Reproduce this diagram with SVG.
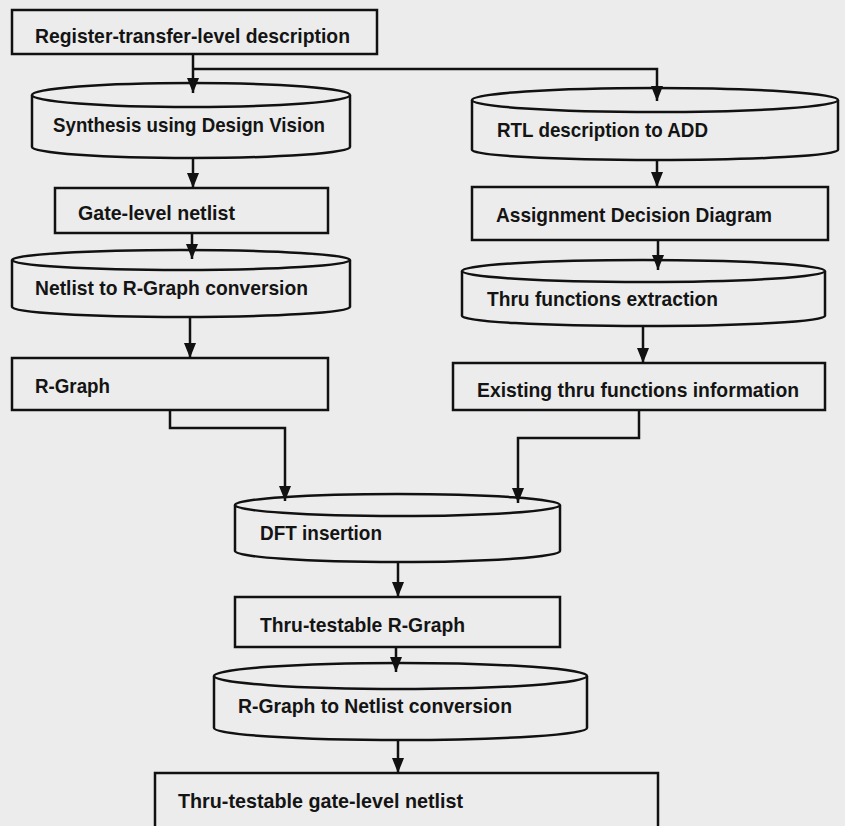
<svg xmlns="http://www.w3.org/2000/svg" width="845" height="826" viewBox="0 0 845 826">
<style>
.s{fill:#ececec;stroke:#111;stroke-width:2.5}
.c{fill:none;stroke:#111;stroke-width:2.5}
.t{font-family:"Liberation Sans",Arial,sans-serif;font-weight:bold;font-size:20.5px;fill:#141414}
</style>
<defs>
<marker id="ah" viewBox="0 0 12 15" refX="6" refY="15" markerWidth="12" markerHeight="15" markerUnits="userSpaceOnUse" orient="0">
<path d="M0,0 L12,0 L6,15 Z" fill="#111"/>
</marker>
</defs>
<rect width="845" height="826" fill="#ececec"/>
<g id="n1"><rect class="s" x="12" y="10" width="365" height="44"/><text class="t" x="35" y="43" textLength="315" lengthAdjust="spacingAndGlyphs">Register-transfer-level description</text></g>
<g id="n2"><path class="s" d="M32,95 V147 A159,11 0 0 0 350,147 V95"/><ellipse class="s" cx="191" cy="95" rx="159" ry="12"/><text class="t" x="53" y="132" textLength="272" lengthAdjust="spacingAndGlyphs">Synthesis using Design Vision</text></g>
<g id="n3"><rect class="s" x="55" y="188" width="273" height="45"/><text class="t" x="78" y="220" textLength="157" lengthAdjust="spacingAndGlyphs">Gate-level netlist</text></g>
<g id="n4"><path class="s" d="M12,260 V307 A169,10 0 0 0 350,307 V260"/><ellipse class="s" cx="181" cy="260" rx="169" ry="10"/><text class="t" x="35" y="295" textLength="273" lengthAdjust="spacingAndGlyphs">Netlist to R-Graph conversion</text></g>
<g id="n5"><rect class="s" x="12" y="358" width="316" height="52"/><text class="t" x="35" y="393" textLength="75" lengthAdjust="spacingAndGlyphs">R-Graph</text></g>
<g id="n6"><path class="s" d="M472,100 V150 A183,10 0 0 0 838,150 V100"/><ellipse class="s" cx="655" cy="100" rx="183" ry="12"/><text class="t" x="497" y="137" textLength="211" lengthAdjust="spacingAndGlyphs">RTL description to ADD</text></g>
<g id="n7"><rect class="s" x="472" y="187" width="356" height="53"/><text class="t" x="496" y="222" textLength="276" lengthAdjust="spacingAndGlyphs">Assignment Decision Diagram</text></g>
<g id="n8"><path class="s" d="M462,271 V316 A181.5,10 0 0 0 825,316 V271"/><ellipse class="s" cx="643.5" cy="271" rx="181.5" ry="11"/><text class="t" x="487" y="306" textLength="231" lengthAdjust="spacingAndGlyphs">Thru functions extraction</text></g>
<g id="n9"><rect class="s" x="453" y="363" width="372" height="47"/><text class="t" x="477" y="397" textLength="322" lengthAdjust="spacingAndGlyphs">Existing thru functions information</text></g>
<g id="n10"><path class="s" d="M235,505 V551 A162.5,11 0 0 0 560,551 V505"/><ellipse class="s" cx="397.5" cy="505" rx="162.5" ry="11"/><text class="t" x="260" y="540" textLength="122" lengthAdjust="spacingAndGlyphs">DFT insertion</text></g>
<g id="n11"><rect class="s" x="235" y="597" width="325" height="50"/><text class="t" x="260" y="632" textLength="205" lengthAdjust="spacingAndGlyphs">Thru-testable R-Graph</text></g>
<g id="n12"><path class="s" d="M214,676 V728 A186.5,12 0 0 0 587,728 V676"/><ellipse class="s" cx="400.5" cy="676" rx="186.5" ry="13"/><text class="t" x="238" y="713" textLength="274" lengthAdjust="spacingAndGlyphs">R-Graph to Netlist conversion</text></g>
<g id="n13"><rect class="s" x="155" y="773" width="503" height="70"/><text class="t" x="178" y="808" textLength="285" lengthAdjust="spacingAndGlyphs">Thru-testable gate-level netlist</text></g>
<g id="connectors" class="c">
<path d="M193,54 V93" marker-end="url(#ah)"/>
<path d="M193,69 H657 V101" marker-end="url(#ah)"/>
<path d="M193,158 V188" marker-end="url(#ah)"/>
<path d="M192,233 V259" marker-end="url(#ah)"/>
<path d="M190,317 V358" marker-end="url(#ah)"/>
<path d="M657,160 V187" marker-end="url(#ah)"/>
<path d="M658,240 V270" marker-end="url(#ah)"/>
<path d="M643,326 V363" marker-end="url(#ah)"/>
<path d="M170,410 V428 H285 V501" marker-end="url(#ah)"/>
<path d="M639,410 V438 H518 V503" marker-end="url(#ah)"/>
<path d="M398,562 V597" marker-end="url(#ah)"/>
<path d="M396,647 V672" marker-end="url(#ah)"/>
<path d="M398,740 V773" marker-end="url(#ah)"/>
</g>
</svg>
